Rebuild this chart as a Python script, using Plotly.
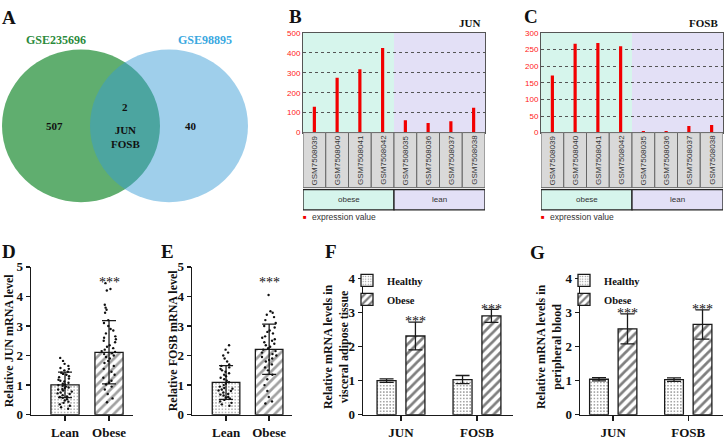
import plotly.graph_objects as go

W, H = 724, 442

# ---------------- data ----------------
venn_names = ["GSE235696", "GSE98895"]
venn_counts = [507, 2, 40]            # only first set, shared, only second set
venn_shared_genes = ["JUN", "FOSB"]

samples = ["GSM7508039", "GSM7508040", "GSM7508041", "GSM7508042",
           "GSM7508035", "GSM7508036", "GSM7508037", "GSM7508038"]
sample_group = ["obese", "obese", "obese", "obese", "lean", "lean", "lean", "lean"]
jun_expression = [130, 275, 318, 425, 62, 48, 57, 125]
fosb_expression = [172, 268, 270, 260, 5, 5, 20, 23]

groups_de = ["Lean", "Obese"]
jun_mean = [1.01, 2.11]
jun_sd = [0.43, 1.07]
jun_lean_points = [1.92, 1.82, 1.72, 1.65, 1.58, 1.55, 1.50, 1.45, 1.42, 1.38, 1.35, 1.30,
                   1.27, 1.22, 1.18, 1.15, 1.12, 1.08, 1.05, 1.02, 1.00, 0.98, 0.95, 0.92,
                   0.90, 0.87, 0.85, 0.82, 0.78, 0.75, 0.72, 0.70, 0.66, 0.62, 0.60, 0.57,
                   0.52, 0.48, 0.44, 0.40, 0.35, 0.30, 0.25, 0.20]
jun_obese_points = [4.45, 4.25, 4.20, 3.72, 3.62, 3.55, 3.45, 3.20, 3.10, 3.00, 2.90, 2.85,
                    2.75, 2.65, 2.60, 2.55, 2.50, 2.45, 2.35, 2.30, 2.25, 2.20, 2.15, 2.12,
                    2.08, 2.05, 2.00, 1.95, 1.90, 1.82, 1.75, 1.65, 1.55, 1.45, 1.35, 1.25,
                    1.15, 1.08, 1.02, 0.95, 0.85, 0.70, 0.55, 0.42]
fosb_mean = [1.09, 2.21]
fosb_sd = [0.57, 0.85]
fosb_lean_points = [2.35, 2.20, 2.10, 2.00, 1.90, 1.80, 1.70, 1.65, 1.60, 1.55, 1.50, 1.45,
                    1.40, 1.35, 1.30, 1.25, 1.20, 1.15, 1.10, 1.05, 1.00, 0.95, 0.90, 0.88,
                    0.85, 0.82, 0.80, 0.75, 0.70, 0.68, 0.65, 0.60, 0.58, 0.55, 0.50, 0.45,
                    0.40, 0.35, 0.30]
fosb_obese_points = [4.05, 3.50, 3.45, 3.38, 3.30, 3.20, 3.10, 3.00, 2.95, 2.85, 2.80, 2.75,
                     2.65, 2.60, 2.55, 2.50, 2.45, 2.40, 2.35, 2.30, 2.25, 2.20, 2.15, 2.10,
                     2.05, 2.00, 1.95, 1.90, 1.85, 1.80, 1.70, 1.60, 1.50, 1.35, 1.20, 1.00,
                     0.80, 0.60, 0.45, 0.38]

genes = ["JUN", "FOSB"]
vat_healthy = [1.00, 1.03]
vat_healthy_sd = [0.05, 0.12]
vat_obese = [2.31, 2.90]
vat_obese_sd = [0.41, 0.19]
blood_healthy = [1.04, 1.03]
blood_healthy_sd = [0.05, 0.05]
blood_obese = [2.52, 2.65]
blood_obese_sd = [0.44, 0.43]

# ---------------- style ----------------
SERIF = "Liberation Serif"
SANS = "Liberation Sans"
RED = "#f20000"
OBESE_BG = "#d6f5ec"
LEAN_BG = "#e3e0f6"
CELL = "#d9d9d9"
AX = "#1a1a1a"
DOTS = dict(shape=".", fgcolor="#111", bgcolor="white", size=3.2, solidity=0.2, fillmode="overlay")
HATCH = dict(shape="/", fgcolor="#000", bgcolor="white", size=6.5, solidity=0.42, fillmode="overlay")


def fx(p):
    return p / W


def fy(p):
    return 1 - p / H


fig = go.Figure()
shapes = []
ann = []

# ---------------- Panel A : Venn ----------------
VENN_R = 79
VENN_C = [(81, 123), (169, 123)]
shapes.append(dict(type="circle", xref="paper", yref="paper",
                   x0=fx(VENN_C[0][0] - VENN_R), x1=fx(VENN_C[0][0] + VENN_R),
                   y0=fy(VENN_C[0][1] + VENN_R), y1=fy(VENN_C[0][1] - VENN_R),
                   fillcolor="rgb(96,174,111)", line=dict(width=0), layer="below"))
shapes.append(dict(type="circle", xref="paper", yref="paper",
                   x0=fx(VENN_C[1][0] - VENN_R), x1=fx(VENN_C[1][0] + VENN_R),
                   y0=fy(VENN_C[1][1] + VENN_R), y1=fy(VENN_C[1][1] - VENN_R),
                   fillcolor="rgba(55,155,213,0.48)", line=dict(width=0), layer="below"))
vfont = dict(family=SERIF, size=11, color="#111", weight="bold")
ann += [
    dict(x=fx(56), y=fy(34), text=venn_names[0], font=dict(family=SERIF, size=12, color="#2a8a3c", weight="bold")),
    dict(x=fx(205), y=fy(34), text=venn_names[1], font=dict(family=SERIF, size=12, color="#3aa8df", weight="bold")),
    dict(x=fx(54), y=fy(123), text=str(venn_counts[0]), font=vfont),
    dict(x=fx(125), y=fy(104), text=str(venn_counts[1]), font=vfont),
    dict(x=fx(125), y=fy(135), text="<br>".join(venn_shared_genes), font=vfont),
    dict(x=fx(191), y=fy(123), text=str(venn_counts[2]), font=vfont),
]

# ---------------- Panels B, C : expression profiles ----------------
n_obese = sample_group.count("obese")
expr_panels = [("", jun_expression, 500, 100, 303, 485, "JUN"),
               ("2", fosb_expression, 300, 50, 541, 723, "FOSB")]
for sfx, vals, ymax, dt, x0p, x1p, title in expr_panels:
    fig.add_trace(go.Bar(x=samples, y=vals, xaxis="x" + sfx, yaxis="y" + sfx,
                         marker=dict(color=RED, line=dict(width=0)), width=0.14,
                         showlegend=False))
    fig.layout["xaxis" + sfx] = dict(domain=[fx(x0p), fx(x1p)], anchor="y" + sfx,
                                     type="category", categoryorder="array", categoryarray=samples,
                                     range=[-0.5, len(samples) - 0.5], showticklabels=False,
                                     ticks="", showline=True, mirror=True, linecolor="#555",
                                     linewidth=1, showgrid=False, zeroline=False)
    fig.layout["yaxis" + sfx] = dict(domain=[fy(130), fy(27)], anchor="x" + sfx,
                                     range=[0, ymax], dtick=dt, ticks="",
                                     tickfont=dict(family=SANS, size=8, color="#ff2020"),
                                     showline=True, mirror=True, linecolor="#555", linewidth=1,
                                     showgrid=True, gridcolor="#555", griddash="dot", gridwidth=1,
                                     zeroline=False)
    xr = "x" + sfx
    shapes.append(dict(type="rect", xref=xr, yref=f"y{sfx} domain", x0=-0.5, x1=n_obese - 0.5,
                       y0=0, y1=1, fillcolor=OBESE_BG, line=dict(width=0), layer="below"))
    shapes.append(dict(type="rect", xref=xr, yref=f"y{sfx} domain", x0=n_obese - 0.5,
                       x1=len(samples) - 0.5, y0=0, y1=1, fillcolor=LEAN_BG,
                       line=dict(width=0), layer="below"))
    for i, s in enumerate(samples):
        shapes.append(dict(type="rect", xref=xr, yref="paper", x0=i - 0.5, x1=i + 0.5,
                           y0=fy(187), y1=fy(130), fillcolor=CELL, line=dict(color="#666", width=1)))
        ann.append(dict(x=i, xref=xr, y=fy(158.5), text=s, textangle=-90,
                        font=dict(family=SANS, size=8, color="#333")))
    shapes.append(dict(type="rect", xref=xr, yref="paper", x0=-0.5, x1=n_obese - 0.5,
                       y0=fy(210), y1=fy(189), fillcolor=OBESE_BG, line=dict(color="#222", width=1.3)))
    shapes.append(dict(type="rect", xref=xr, yref="paper", x0=n_obese - 0.5, x1=len(samples) - 0.5,
                       y0=fy(210), y1=fy(189), fillcolor=LEAN_BG, line=dict(color="#222", width=1.3)))
    ann.append(dict(x=(n_obese - 1) / 2, xref=xr, y=fy(199.5), text="obese",
                    font=dict(family=SANS, size=8, color="#333")))
    ann.append(dict(x=n_obese + (len(samples) - n_obese - 1) / 2, xref=xr, y=fy(199.5), text="lean",
                    font=dict(family=SANS, size=8, color="#333")))
    ann.append(dict(x=fx(x0p + 2), y=fy(217), text="■",
                    font=dict(family=SANS, size=6, color=RED)))
    ann.append(dict(x=fx(x0p + 7), y=fy(217.5), text="expression value", xanchor="left",
                    font=dict(family=SANS, size=8.5, color="#333")))
    ann.append(dict(x=fx(x1p - 3), y=fy(17), text=title, xanchor="right",
                    font=dict(family=SERIF, size=11, color="#111", weight="bold")))

# ---------------- Panels D, E : individual points ----------------
bold_tick = dict(family=SERIF, size=13, color="#111", weight="bold")
cat_tick = dict(family=SERIF, size=13, color="#111", weight="bold")


def bottom_axes(n, xd, yd, xr, ymax, cats):
    fig.layout[f"xaxis{n}"] = dict(domain=[fx(xd[0]), fx(xd[1])], anchor=f"y{n}", type="category",
                                   categoryorder="array", categoryarray=cats, range=xr,
                                   showline=True, linecolor=AX, linewidth=1.5, ticks="outside",
                                   ticklen=5, tickwidth=1.5, tickcolor=AX, tickfont=cat_tick,
                                   showgrid=False, zeroline=False)
    fig.layout[f"yaxis{n}"] = dict(domain=[fy(yd[0]), fy(yd[1])], anchor=f"x{n}", range=[0, ymax],
                                   dtick=1, showline=True, linecolor=AX, linewidth=1.5,
                                   ticks="outside", ticklen=4, tickwidth=1.5, tickcolor=AX,
                                   tickfont=bold_tick, showgrid=False, zeroline=False)


STAR_Y_DE = 4.62
de_panels = [(3, jun_mean, jun_sd, jun_lean_points, jun_obese_points, (31, 133), -0.773, 1.545,
              "Relative JUN mRNA level", 9),
             (4, fosb_mean, fosb_sd, fosb_lean_points, fosb_obese_points, (192, 292), -0.79, 1.53,
              "Relative FOSB mRNA level", 173)]
for n, mean, sd, lp, op, xd, xl, xh, ytitle, tx in de_panels:
    fig.add_trace(go.Bar(x=groups_de, y=mean, xaxis=f"x{n}", yaxis=f"y{n}", width=0.64,
                         marker=dict(color=["white", "white"], line=dict(color=AX, width=1.3),
                                     pattern=dict(shape=[DOTS["shape"], HATCH["shape"]],
                                                  fgcolor="#000", bgcolor="white",
                                                  size=[DOTS["size"], HATCH["size"]],
                                                  solidity=[DOTS["solidity"], HATCH["solidity"]],
                                                  fillmode="overlay")),
                         error_y=dict(type="data", array=sd, color=AX, thickness=1.3, width=7),
                         showlegend=False))
    fig.add_trace(go.Box(x=[groups_de[0]] * len(lp) + [groups_de[1]] * len(op), y=lp + op,
                         xaxis=f"x{n}", yaxis=f"y{n}", boxpoints="all", jitter=0.75, pointpos=0,
                         width=0.5, fillcolor="rgba(0,0,0,0)",
                         line=dict(color="rgba(0,0,0,0)", width=0),
                         marker=dict(color="#111", size=2.4), showlegend=False))
    bottom_axes(n, xd, (422, 269), [xl, xh], 5, groups_de)
    ann.append(dict(x=groups_de[1], xref=f"x{n}", y=STAR_Y_DE, yref=f"y{n}", text="***",
                    yshift=-4, font=dict(family=SERIF, size=14, color="#111")))
    ann.append(dict(x=fx(tx), y=fy(345), text=ytitle, textangle=-90,
                    font=dict(family=SERIF, size=12, color="#111", weight="bold")))

# ---------------- Panels F, G : qPCR ----------------
BW = 0.25
BOFF = 0.19
STAR_PAD = 0.13
fg_panels = [(5, vat_healthy, vat_healthy_sd, vat_obese, vat_obese_sd, (363, 513), -0.5, 1.474,
              "Relative mRNA levels in<br>visceral adipose tissue", 335.5, "legend", 377),
             (6, blood_healthy, blood_healthy_sd, blood_obese, blood_obese_sd, (580, 723), -0.443,
              1.463, "Relative mRNA levels in<br>peripheral blood", 548.5, "legend2", 594)]
for n, hm, hs, om, osd, xd, xl, xh, ytitle, tx, leg, lx in fg_panels:
    fig.add_trace(go.Bar(x=genes, y=hm, name="Healthy", xaxis=f"x{n}", yaxis=f"y{n}",
                         width=BW, offset=-BOFF - BW / 2, legend=leg,
                         marker=dict(color="white", line=dict(color=AX, width=1.3), pattern=DOTS),
                         error_y=dict(type="data", array=hs, color=AX, thickness=1.3, width=7)))
    fig.add_trace(go.Bar(x=genes, y=om, name="Obese", xaxis=f"x{n}", yaxis=f"y{n}",
                         width=BW, offset=BOFF - BW / 2, legend=leg,
                         marker=dict(color="white", line=dict(color=AX, width=1.3), pattern=HATCH),
                         error_y=dict(type="data", array=osd, color=AX, thickness=1.3, width=7)))
    bottom_axes(n, xd, (422, 281), [xl, xh], 4, genes)
    for g, m, s in zip(genes, om, osd):
        ann.append(dict(x=g, xref=f"x{n}", xshift=BOFF * (xd[1] - xd[0]) / (xh - xl),
                        y=m + s + STAR_PAD, yref=f"y{n}", text="***", yshift=-4,
                        font=dict(family=SERIF, size=14, color="#111")))
    ann.append(dict(x=fx(tx), y=fy(351.5), text=ytitle, textangle=-90,
                    font=dict(family=SERIF, size=12, color="#111", weight="bold")))
    fig.layout[leg] = dict(x=fx(lx - 30), y=fy(268), xanchor="left", yanchor="top",
                           bgcolor="rgba(0,0,0,0)", borderwidth=0, itemwidth=30,
                           tracegroupgap=0,
                           font=dict(family=SERIF, size=10.5, color="#111", weight="bold"))

# ---------------- panel letters ----------------
for letter, px, py in [("A", 9, 11), ("B", 295, 10), ("C", 531, 10), ("D", 9, 253),
                       ("E", 167, 253), ("F", 331, 253), ("G", 537, 254)]:
    ann.append(dict(x=fx(px), y=fy(py), text=letter,
                    font=dict(family=SERIF, size=19, color="#111", weight="bold")))

for a in ann:
    a.setdefault("xref", "paper")
    a.setdefault("yref", "paper")
    a.setdefault("xanchor", "center")
    a.setdefault("yanchor", "middle")
    a["showarrow"] = False

fig.update_layout(width=W, height=H, margin=dict(l=0, r=0, t=0, b=0),
                  paper_bgcolor="white", plot_bgcolor="rgba(0,0,0,0)",
                  barmode="group", boxmode="overlay", hovermode=False,
                  font=dict(family=SERIF, color="#111"),
                  shapes=shapes, annotations=ann)

fig.write_html("out.html", config={"displayModeBar": False, "staticPlot": True},
               post_script="document.body.style.margin='0px';"
                           "document.documentElement.style.overflow='hidden';")
